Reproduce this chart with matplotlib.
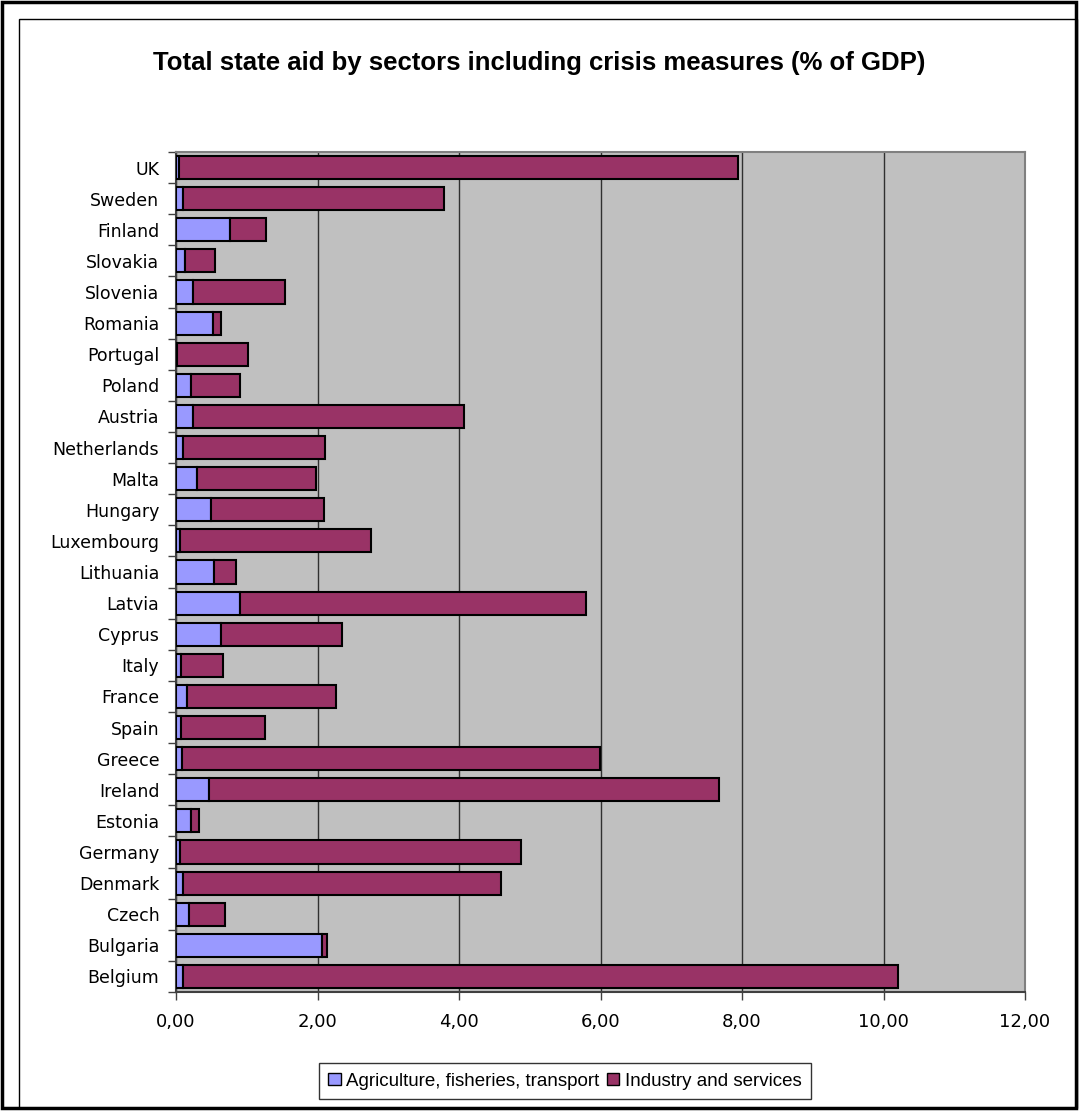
import matplotlib
matplotlib.use('Agg')
import matplotlib.pyplot as plt
from matplotlib.patches import Rectangle, Patch
from matplotlib.ticker import FixedLocator, FuncFormatter

# data, bottom to top as drawn
countries = ['Belgium', 'Bulgaria', 'Czech', 'Denmark', 'Germany', 'Estonia',
             'Ireland', 'Greece', 'Spain', 'France', 'Italy', 'Cyprus',
             'Latvia', 'Lithuania', 'Luxembourg', 'Hungary', 'Malta',
             'Netherlands', 'Austria', 'Poland', 'Portugal', 'Romania',
             'Slovenia', 'Slovakia', 'Finland', 'Sweden', 'UK']
agriculture = [0.10, 2.06, 0.18, 0.10, 0.05, 0.21, 0.47, 0.08, 0.07, 0.16,
               0.07, 0.63, 0.90, 0.54, 0.05, 0.49, 0.29, 0.10, 0.24, 0.21,
               0.02, 0.52, 0.24, 0.13, 0.76, 0.10, 0.04]
industry = [10.10, 0.08, 0.51, 4.50, 4.83, 0.12, 7.20, 5.91, 1.19, 2.10,
            0.59, 1.71, 4.90, 0.31, 2.70, 1.60, 1.69, 2.01, 3.83, 0.69,
            1.00, 0.11, 1.30, 0.42, 0.51, 3.69, 7.90]
x_ticks = [0, 2, 4, 6, 8, 10, 12]

W, H = 1079, 1111
fig = plt.figure(figsize=(W / 100, H / 100), dpi=100)
fig.patch.set_facecolor('white')

# frames around the chart
fig.add_artist(Rectangle((2 / W, 3 / H), 1074 / W, 1106 / H, transform=fig.transFigure,
                         fill=False, edgecolor='black', linewidth=2.5))
fig.add_artist(Rectangle((19 / W, 3 / H), 1058 / W, 1089 / H, transform=fig.transFigure,
                         fill=False, edgecolor='black', linewidth=1))

ax = fig.add_axes([176 / W, 119 / H, (1025 - 176) / W, (992 - 152) / H])
ax.set_facecolor('#C0C0C0')

pos = list(range(len(countries)))
ax.barh(pos, agriculture, height=0.74, color='#9999FF', edgecolor='black',
        linewidth=1.5, zorder=3)
ax.barh(pos, industry, left=agriculture, height=0.74, color='#993366',
        edgecolor='black', linewidth=1.5, zorder=3)

ax.set_xlim(0, 12)
ax.set_ylim(-0.5, len(countries) - 0.5)
ax.set_xticks(x_ticks)
ax.xaxis.set_major_formatter(FuncFormatter(lambda v, p: f'{v:.2f}'.replace('.', ',')))
ax.grid(axis='x', color='#303030', linewidth=1, zorder=1)
ax.set_axisbelow(True)

ax.set_yticks(pos)
ax.set_yticklabels(countries)
ax.yaxis.set_minor_locator(FixedLocator([i - 0.5 for i in range(len(countries) + 1)]))
ax.tick_params(axis='y', which='major', length=0, pad=12, labelsize=12.5)
ax.tick_params(axis='y', which='minor', length=6, width=1, color='#404040', direction='out')
ax.tick_params(axis='x', length=6, width=1, color='#404040', direction='out',
               labelsize=13, pad=9)
for s in ['left', 'bottom']:
    ax.spines[s].set_color('#404040')
    ax.spines[s].set_linewidth(1.5)
for s in ['right', 'top']:
    ax.spines[s].set_color('#808080')
    ax.spines[s].set_linewidth(1.5)

fig.text(539 / W, 1 - 63 / H, 'Total state aid by sectors including crisis measures (% of GDP)',
         ha='center', va='center', fontsize=18.5, fontweight='bold',
         family='Liberation Sans')

handles = [Patch(facecolor='#9999FF', edgecolor='black', linewidth=1),
           Patch(facecolor='#993366', edgecolor='black', linewidth=1)]
leg = fig.legend(handles, ['Agriculture, fisheries, transport', 'Industry and services'],
                 loc='center', bbox_to_anchor=(565 / W, 1 - 1081 / H), ncol=2,
                 frameon=True, fancybox=False, edgecolor='black',
                 prop={'family': 'Liberation Sans', 'size': 13.5},
                 handlelength=0.65, handleheight=0.65, handletextpad=0.3,
                 columnspacing=0.4, borderpad=0.5)
leg.get_frame().set_linewidth(1)

fig.savefig('out.png', dpi=100)
